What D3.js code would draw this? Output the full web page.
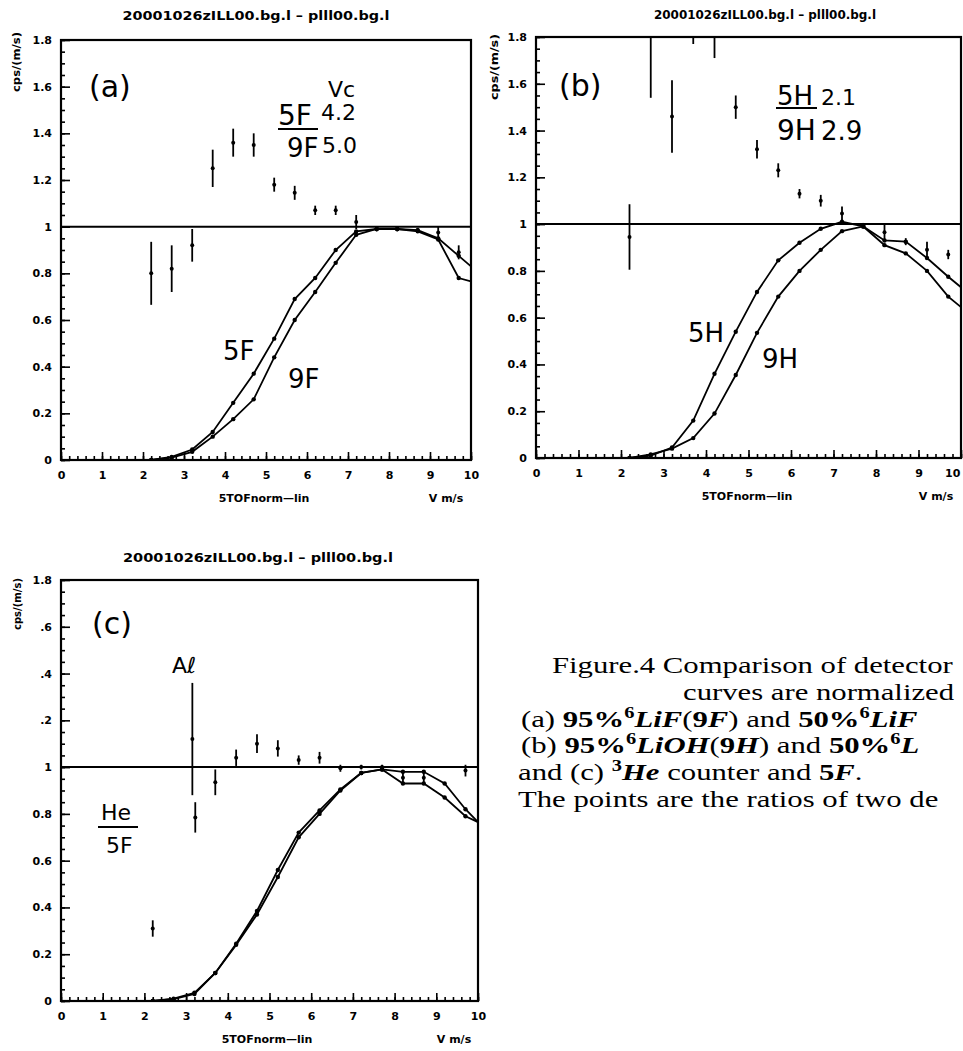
<!DOCTYPE html>
<html>
<head>
<meta charset="utf-8">
<script src="https://cdn.jsdelivr.net/npm/d3@7"></script>
<style>
  body { margin: 0; background: #fff; }
  svg { display: block; }
</style>
</head>
<body>
<svg id="fig" width="963" height="1051"></svg>
<script>
// velocity bins (m/s) shared by all curves
const velocity = [2.2, 2.7, 3.2, 3.7, 4.2, 4.7, 5.2, 5.7, 6.2, 6.7, 7.2, 7.7, 8.2, 8.7, 9.2, 9.7, 10];

// normalized efficiency curves
const effA_5F = [0, 0.013, 0.045, 0.12, 0.245, 0.37, 0.52, 0.69, 0.78, 0.9, 0.98, 0.99, 0.99, 0.98, 0.945, 0.78, 0.765];
const effA_9F = [0, 0.01, 0.035, 0.1, 0.175, 0.26, 0.44, 0.6, 0.72, 0.845, 0.965, 0.99, 0.99, 0.985, 0.95, 0.875, 0.83];
const effB_5H = [0, 0.01, 0.045, 0.16, 0.36, 0.54, 0.71, 0.845, 0.92, 0.98, 1.01, 0.99, 0.91, 0.875, 0.8, 0.69, 0.645];
const effB_9H = [0, 0.015, 0.04, 0.085, 0.19, 0.355, 0.535, 0.69, 0.8, 0.89, 0.97, 0.99, 0.93, 0.925, 0.855, 0.775, 0.73];
const effC_He = [0, 0.008, 0.03, 0.12, 0.245, 0.385, 0.56, 0.72, 0.815, 0.905, 0.975, 0.99, 0.98, 0.98, 0.93, 0.82, 0.765];
const effC_5F = [0, 0.01, 0.035, 0.12, 0.24, 0.37, 0.53, 0.7, 0.8, 0.9, 0.975, 0.99, 0.93, 0.93, 0.87, 0.79, 0.765];

// ratio points with error bars
const ratioAB_v = [2.2, 2.7, 3.2, 3.7, 4.2, 4.7, 5.2, 5.7, 6.2, 6.7, 7.2, 7.7, 8.2, 8.7, 9.2, 9.7];
const ratioA = [0.8, 0.82, 0.92, 1.25, 1.36, 1.35, 1.18, 1.145, 1.07, 1.07, 1.02, 0.99, 0.99, 0.985, 0.975, 0.89];
const ratioA_err = [0.135, 0.1, 0.07, 0.08, 0.06, 0.05, 0.03, 0.03, 0.02, 0.02, 0.03, 0.01, 0.01, 0.01, 0.025, 0.03];
const ratioB = [0.945, 1.9, 1.46, 1.92, 1.82, 1.5, 1.32, 1.23, 1.13, 1.1, 1.045, 0.995, 0.965, 0.925, 0.89, 0.87];
const ratioB_err = [0.14, 0.36, 0.155, 0.15, 0.11, 0.05, 0.04, 0.03, 0.02, 0.025, 0.03, 0.01, 0.035, 0.015, 0.035, 0.02];
const ratioC_v = [2.2, 3.15, 3.22, 3.7, 4.2, 4.7, 5.2, 5.7, 6.2, 6.7, 7.2, 7.7, 8.2, 8.7, 9.7];
const ratioC = [0.31, 1.12, 0.785, 0.935, 1.04, 1.1, 1.08, 1.03, 1.04, 0.995, 1.0, 1.0, 0.955, 0.955, 0.985];
const ratioC_err = [0.035, 0.24, 0.065, 0.055, 0.035, 0.04, 0.035, 0.02, 0.025, 0.015, 0.01, 0.01, 0.025, 0.025, 0.025];

// axis ticks
const xTicks = [0, 1, 2, 3, 4, 5, 6, 7, 8, 9, 10];
const yTicks = [0, 0.2, 0.4, 0.6, 0.8, 1, 1.2, 1.4, 1.6, 1.8];
const yLabelsAB = ["0", "0.2", "0.4", "0.6", "0.8", "1", "1.2", "1.4", "1.6", "1.8"];
const yLabelsC = ["0", "0.2", "0.4", "0.6", "0.8", "1", ".2", ".4", ".6", "1.8"];

const svg = d3.select("#fig");
const tickFont = "'DejaVu Sans', sans-serif";
const handFont = "'DejaVu Sans', sans-serif";

function zip(xs, ys) {
  return xs.map((v, i) => [v, ys[i]]);
}

function drawPanel(p) {
  const x = d3.scaleLinear().domain([0, 10]).range(p.xr);
  const y = d3.scaleLinear().domain([0, 1.8]).range(p.yr);
  const g = svg.append("g").attr("class", "panel");

  const clipId = "clip" + p.id;
  g.append("clipPath").attr("id", clipId)
    .append("rect")
    .attr("x", p.xr[0]).attr("y", p.yr[1])
    .attr("width", p.xr[1] - p.xr[0]).attr("height", p.yr[0] - p.yr[1]);

  // title
  g.append("text")
    .attr("x", p.titleX).attr("y", p.titleY)
    .attr("text-anchor", "middle")
    .attr("textLength", p.titleLen).attr("lengthAdjust", "spacingAndGlyphs")
    .style("font", "bold 12px " + tickFont)
    .text("20001026zILL00.bg.l – plll00.bg.l");

  // y axis title
  g.append("text")
    .attr("transform", `translate(${p.ylabX},${p.ylabY}) rotate(-90)`)
    .attr("text-anchor", "middle")
    .attr("textLength", p.ylabLen).attr("lengthAdjust", "spacingAndGlyphs")
    .style("font", "bold 10px " + tickFont)
    .text("cps/(m/s)");

  // minor ticks
  g.append("g")
    .attr("transform", `translate(${p.xr[0]},0)`)
    .call(d3.axisLeft(y).tickValues(d3.range(0, 1.8001, 0.05)).tickSize(-4).tickFormat(""))
    .call(s => s.select(".domain").remove());
  g.append("g")
    .attr("transform", `translate(0,${p.yr[0]})`)
    .call(d3.axisBottom(x).tickValues(d3.range(0, 10.001, 0.2)).tickSize(-4).tickFormat(""))
    .call(s => s.select(".domain").remove());

  // major ticks + labels
  const yAx = g.append("g")
    .attr("transform", `translate(${p.xr[0]},0)`)
    .call(d3.axisLeft(y).tickValues(yTicks).tickSizeInner(-9).tickSizeOuter(0).tickPadding(9)
      .tickFormat((d, i) => p.yLabels[i]));
  yAx.select(".domain").remove();
  yAx.selectAll("text").style("font", "bold 11px " + tickFont).attr("fill", "#000");

  const xAx = g.append("g")
    .attr("transform", `translate(0,${p.yr[0]})`)
    .call(d3.axisBottom(x).tickValues(xTicks).tickSizeInner(-8).tickSizeOuter(0).tickPadding(11)
      .tickFormat(d3.format("d")));
  xAx.select(".domain").remove();
  xAx.selectAll("text").style("font", "bold 11px " + tickFont).attr("fill", "#000");
  // keep the last label inside the page when the panel touches the right edge
  if (p.xr[1] > 950) {
    xAx.selectAll("text").filter(d => d === 10).attr("text-anchor", "end").attr("dx", "-0.1em");
  }
  g.selectAll(".tick line").attr("stroke", "#000").attr("stroke-width", 1.6);

  // frame
  g.append("rect")
    .attr("x", p.xr[0]).attr("y", p.yr[1])
    .attr("width", p.xr[1] - p.xr[0]).attr("height", p.yr[0] - p.yr[1])
    .attr("fill", "none").attr("stroke", "#000").attr("stroke-width", 2.2);

  // reference line at ratio 1
  g.append("line")
    .attr("x1", p.xr[0]).attr("x2", p.xr[1])
    .attr("y1", y(1)).attr("y2", y(1))
    .attr("stroke", "#000").attr("stroke-width", 2);

  const plot = g.append("g").attr("clip-path", `url(#${clipId})`);
  const line = d3.line().x(d => x(d[0])).y(d => y(d[1]));

  p.curves.forEach(c => {
    const pts = zip(velocity, c);
    plot.append("path").datum(pts)
      .attr("d", line).attr("fill", "none")
      .attr("stroke", "#000").attr("stroke-width", 1.8);
    plot.selectAll(null).data(pts.slice(0, -1)).join("circle")
      .attr("cx", d => x(d[0])).attr("cy", d => y(d[1]))
      .attr("r", 2.2).attr("fill", "#000");
  });

  // ratio error bars
  const rp = p.ratioV.map((v, i) => ({ v, r: p.ratio[i], e: p.ratioErr[i] }));
  plot.selectAll(null).data(rp).join("line")
    .attr("x1", d => x(d.v)).attr("x2", d => x(d.v))
    .attr("y1", d => y(d.r + d.e)).attr("y2", d => y(d.r - d.e))
    .attr("stroke", "#000").attr("stroke-width", 1.8);
  plot.selectAll(null).data(rp).join("circle")
    .attr("cx", d => x(d.v)).attr("cy", d => y(d.r))
    .attr("r", 2).attr("fill", "#000");

  // axis titles
  g.append("text").attr("x", p.xtitleX).attr("y", p.xtitleY)
    .attr("text-anchor", "middle")
    .style("font", "bold 11px " + tickFont)
    .text("5TOFnorm—lin");
  g.append("text").attr("x", p.vX).attr("y", p.xtitleY)
    .attr("text-anchor", "middle")
    .style("font", "bold 11px " + tickFont)
    .text("V m/s");

  // handwritten notes
  p.notes.forEach(n => {
    g.append("text").attr("x", n.x).attr("y", n.y)
      .style("font", `${n.size}px ${handFont}`)
      .text(n.t);
  });
  p.rules.forEach(r => {
    g.append("line")
      .attr("x1", r[0]).attr("x2", r[1]).attr("y1", r[2]).attr("y2", r[2])
      .attr("stroke", "#000").attr("stroke-width", 2);
  });
}

drawPanel({
  id: "a", xr: [61, 471], yr: [460, 40],
  titleX: 256, titleY: 20, titleLen: 267,
  ylabX: 20, ylabY: 62, ylabLen: 60,
  yLabels: yLabelsAB,
  curves: [effA_5F, effA_9F],
  ratioV: ratioAB_v, ratio: ratioA, ratioErr: ratioA_err,
  xtitleX: 264, xtitleY: 502, vX: 446,
  notes: [
    { t: "(a)", x: 89, y: 97, size: 30 },
    { t: "Vc", x: 328, y: 97, size: 22 },
    { t: "5F", x: 278, y: 125, size: 28 },
    { t: "4.2", x: 321, y: 120, size: 22 },
    { t: "9F", x: 287, y: 157, size: 26 },
    { t: "5.0", x: 322, y: 153, size: 22 },
    { t: "5F", x: 223, y: 360, size: 26 },
    { t: "9F", x: 288, y: 388, size: 26 }
  ],
  rules: [[278, 318, 129]]
});

drawPanel({
  id: "b", xr: [536, 961], yr: [458, 37],
  titleX: 765, titleY: 19, titleLen: 222,
  ylabX: 498, ylabY: 67, ylabLen: 66,
  yLabels: yLabelsAB,
  curves: [effB_5H, effB_9H],
  ratioV: ratioAB_v, ratio: ratioB, ratioErr: ratioB_err,
  xtitleX: 747, xtitleY: 500, vX: 936,
  notes: [
    { t: "(b)", x: 559, y: 96, size: 30 },
    { t: "5H", x: 777, y: 105, size: 26 },
    { t: "2.1", x: 821, y: 105, size: 22 },
    { t: "9H", x: 777, y: 140, size: 28 },
    { t: "2.9", x: 821, y: 140, size: 26 },
    { t: "5H", x: 688, y: 342, size: 26 },
    { t: "9H", x: 762, y: 368, size: 26 }
  ],
  rules: [[776, 817, 108]]
});

drawPanel({
  id: "c", xr: [61, 478], yr: [1001, 580],
  titleX: 258, titleY: 562, titleLen: 270,
  ylabX: 21, ylabY: 604, ylabLen: 52,
  yLabels: yLabelsC,
  curves: [effC_He, effC_5F],
  ratioV: ratioC_v, ratio: ratioC, ratioErr: ratioC_err,
  xtitleX: 267, xtitleY: 1043, vX: 454,
  notes: [
    { t: "(c)", x: 92, y: 634, size: 30 },
    { t: "Aℓ", x: 172, y: 673, size: 22 },
    { t: "He", x: 101, y: 820, size: 22 },
    { t: "5F", x: 106, y: 853, size: 22 }
  ],
  rules: [[98, 138, 827]]
});

// caption (clipped by the page edge like the scan)
const cap = svg.append("g").style("font-family", "'Liberation Serif', 'Times New Roman', serif").style("font-size", "24px");
function capLine(x, y, parts) {
  const t = cap.append("text").attr("transform", `translate(${x},${y}) scale(1.28,1)`);
  parts.forEach(pt => {
    const s = t.append("tspan").text(pt[0]);
    if (pt[1] && pt[1].includes("b")) s.attr("font-weight", "bold");
    if (pt[1] && pt[1].includes("i")) s.attr("font-style", "italic");
    if (pt[1] && pt[1].includes("s")) s.attr("font-size", "16px").attr("baseline-shift", "super");
  });
}
capLine(552, 673, [["Figure.4 Comparison of detector"]]);
capLine(683, 700, [["curves are normalized"]]);
capLine(521, 727, [["(a) "], ["95%", "b"], ["6", "bs"], ["LiF", "bi"], ["("], ["9", "b"], ["F", "bi"], [")"],
  [" and "], ["50%", "b"], ["6", "bs"], ["LiF", "bi"]]);
capLine(521, 753, [["(b) "], ["95%", "b"], ["6", "bs"], ["LiOH", "bi"], ["("], ["9", "b"], ["H", "bi"], [")"],
  [" and "], ["50%", "b"], ["6", "bs"], ["L", "bi"]]);
capLine(518, 780, [["and (c) "], ["3", "bs"], ["He", "bi"], [" counter and "], ["5", "b"], ["F", "bi"], ["."]]);
capLine(518, 807, [["The points are the ratios of two de"]]);
</script>
</body>
</html>
